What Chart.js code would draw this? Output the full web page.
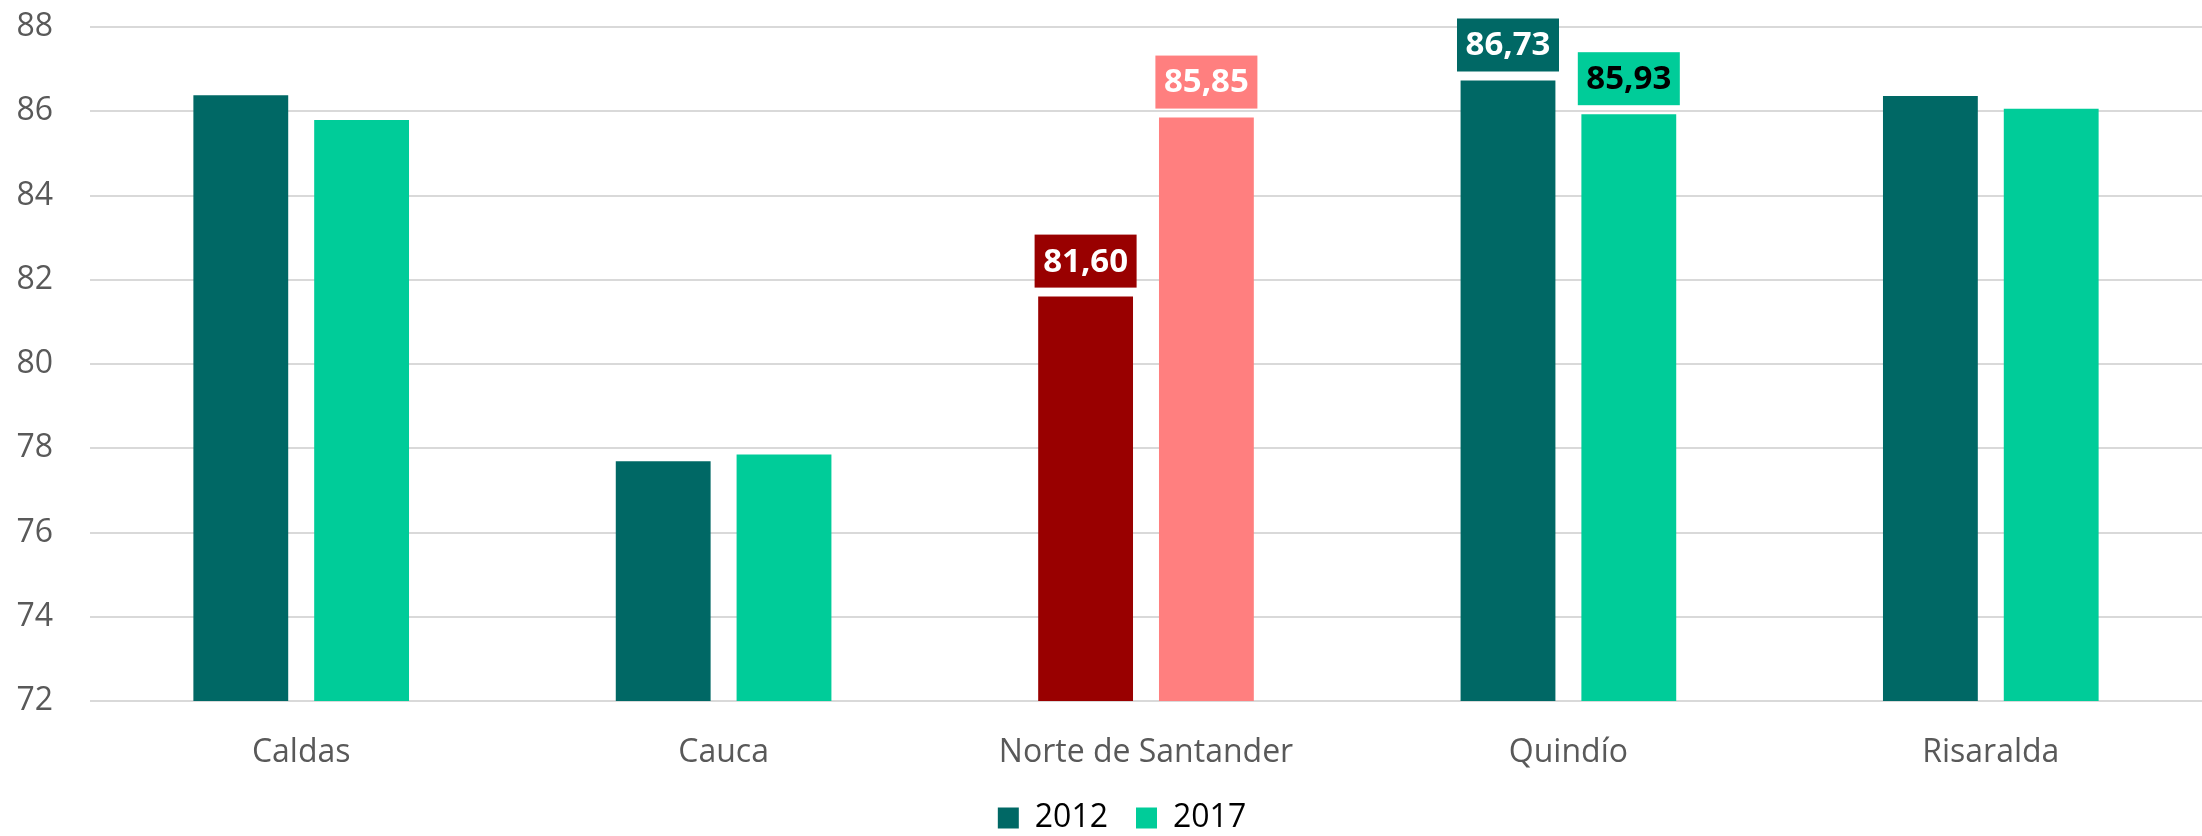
<!DOCTYPE html>
<html>
<head>
<meta charset="utf-8">
<script src="https://cdn.jsdelivr.net/npm/chart.js@4.4.1/dist/chart.umd.min.js"></script>
<style>
  html, body { margin: 0; padding: 0; background: #fff; overflow: hidden; }
  #wrap { width: 2202px; height: 836px; overflow: hidden; }
</style>
</head>
<body>
<div id="wrap"><canvas id="barChart" width="2202" height="850"></canvas></div>
<script>
const departments = ["Caldas", "Cauca", "Norte de Santander", "Quindío", "Risaralda"];
const values2012 = [86.38, 77.69, 81.60, 86.73, 86.36];
const values2017 = [85.79, 77.85, 85.85, 85.93, 86.06];
const yTicks = [72, 74, 76, 78, 80, 82, 84, 86, 88];

// which bars carry a value box
const labels2012 = [false, false, true, true, false];
const labels2017 = [false, false, true, true, false];

const green2012 = "#006865";
const green2017 = "#00CC99";
const colors2012 = [green2012, green2012, "#990000", green2012, green2012];
const colors2017 = [green2017, green2017, "#FF7F7F", green2017, green2017];
const labelText2012 = ["#fff", "#fff", "#fff", "#fff", "#fff"];
const labelText2017 = ["#fff", "#fff", "#fff", "#000", "#000"];

const FONT = "'Open Sans', 'DejaVu Sans', sans-serif";

// draws the boxed value labels above selected bars
const valueBoxes = {
  id: "valueBoxes",
  afterDatasetsDraw(chart) {
    const ctx = chart.ctx;
    const flags = [labels2012, labels2017];
    const textColors = [labelText2012, labelText2017];
    chart.data.datasets.forEach(function (ds, i) {
      const meta = chart.getDatasetMeta(i);
      meta.data.forEach(function (bar, j) {
        if (!flags[i][j]) return;
        const w = 102, h = 53, gap = 9;
        const x = bar.x - w / 2;
        const y = bar.y - gap - h;
        ctx.save();
        ctx.fillStyle = ds.backgroundColor[j];
        ctx.fillRect(x, y, w, h);
        ctx.fillStyle = textColors[i][j];
        ctx.font = "bold 33px " + FONT;
        ctx.textAlign = "center";
        ctx.textBaseline = "middle";
        ctx.fillText(ds.data[j].toFixed(2).replace(".", ","), bar.x, y + h / 2 + 1);
        ctx.restore();
      });
    });
  },
};

// legend sits a bit right of the canvas centre
const legendShift = {
  id: "legendShift",
  afterLayout(chart) {
    if (chart.legend) {
      chart.legend.left += 21;
      chart.legend.right += 21;
    }
  },
};

const ctx = document.getElementById("barChart");

var chart = new Chart(ctx, {
  type: "bar",
  data: {
    labels: departments,
    datasets: [
      {
        label: "2012",
        data: values2012,
        backgroundColor: colors2012,
        borderWidth: 0,
      },
      {
        label: "2017",
        data: values2017,
        backgroundColor: colors2017,
        borderWidth: 0,
      },
    ],
  },
  options: {
    responsive: false,
    animation: false,
    categoryPercentage: 0.572,
    barPercentage: 0.785,
    layout: {
      padding: { top: 27, left: 0, right: 0, bottom: 6 },
    },
    scales: {
      x: {
        grid: { display: false },
        border: { display: false },
        ticks: {
          color: "#595959",
          font: { family: FONT, size: 32 },
          padding: 25,
          maxRotation: 0,
        },
        afterFit(scale) {
          scale.height = 73;
        },
      },
      y: {
        min: 72,
        max: 88,
        border: { display: false },
        grid: { color: "#d9d9d9", lineWidth: 2, drawTicks: false },
        afterBuildTicks(scale) {
          scale.ticks = yTicks.map((v) => ({ value: v }));
        },
        ticks: {
          color: "#595959",
          font: { family: FONT, size: 32 },
          padding: 37,
        },
        afterFit(scale) {
          scale.width = 90;
          scale.paddingTop = 0;
          scale.paddingBottom = 0;
        },
      },
    },
    plugins: {
      tooltip: { enabled: false },
      legend: {
        position: "bottom",
        labels: {
          color: "#595959",
          font: { family: FONT, size: 32 },
          boxWidth: 21,
          boxHeight: 21,
          padding: 28,
          generateLabels() {
            return [
              { text: "2012", fillStyle: green2012, strokeStyle: green2012, lineWidth: 0, datasetIndex: 0 },
              { text: "2017", fillStyle: green2017, strokeStyle: green2017, lineWidth: 0, datasetIndex: 1 },
            ];
          },
        },
      },
    },
  },
  plugins: [valueBoxes, legendShift],
});
</script>
</body>
</html>
